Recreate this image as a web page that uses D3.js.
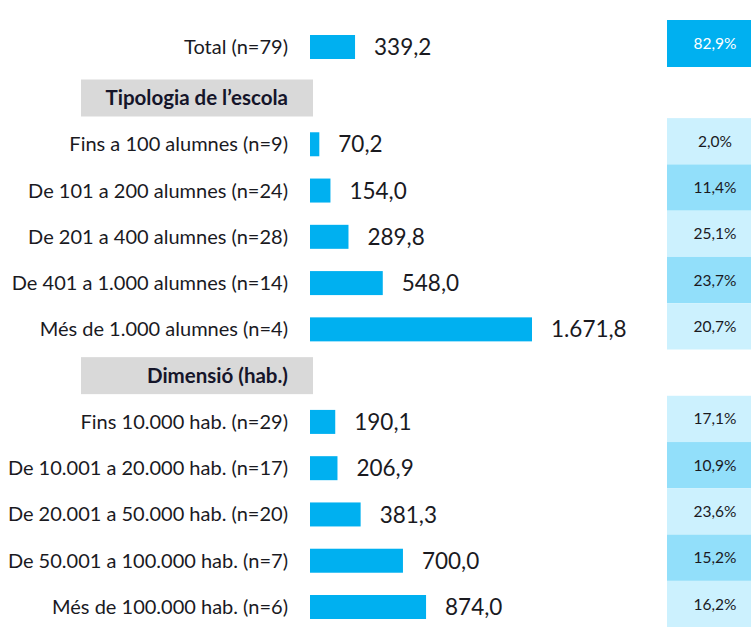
<!DOCTYPE html>
<html>
<head>
<meta charset="utf-8">
<script src="https://cdn.jsdelivr.net/npm/d3@7"></script>
<style>
  body { margin: 0; background: #fff; }
  svg { display: block; font-family: Lato, "Noto Sans", sans-serif; }
</style>
</head>
<body>
<div id="chart"></div>
<script>
// Data
const totalLabel = "Total (n=79)";
const totalValue = 339.2;
const totalShare = 82.9;

const groups = ["Tipologia de l’escola", "Dimensió (hab.)"];

const schoolLabels = [
    "Fins a 100 alumnes (n=9)",
    "De 101 a 200 alumnes (n=24)",
    "De 201 a 400 alumnes (n=28)",
    "De 401 a 1.000 alumnes (n=14)",
    "Més de 1.000 alumnes (n=4)"
];
const schoolValues = [70.2, 154.0, 289.8, 548.0, 1671.8];
const schoolShares = [2.0, 11.4, 25.1, 23.7, 20.7];

const sizeLabels = [
    "Fins 10.000 hab. (n=29)",
    "De 10.001 a 20.000 hab. (n=17)",
    "De 20.001 a 50.000 hab. (n=20)",
    "De 50.001 a 100.000 hab. (n=7)",
    "Més de 100.000 hab. (n=6)"
];
const sizeValues = [190.1, 206.9, 381.3, 700.0, 874.0];
const sizeShares = [17.1, 10.9, 23.6, 15.2, 16.2];

// number format with catalan separators
const fmt = d3.formatLocale({ decimal: ",", thousands: ".", grouping: [3], currency: ["", "€"] });
const fmtVal = fmt.format(",.1f");
const fmtPct = d => fmt.format(".1f")(d) + "%";

const width = 751, height = 627;
const barColor = "#00b0f0";
const textColor = "#1a1a1f";

// build the rows: header, 5 rows, header, 5 rows
const rows = [];
rows.push({ type: "header", label: groups[0] });
schoolLabels.forEach((l, i) => rows.push({ type: "row", label: l, value: schoolValues[i], share: schoolShares[i], k: i }));
rows.push({ type: "header", label: groups[1] });
sizeLabels.forEach((l, i) => rows.push({ type: "row", label: l, value: sizeValues[i], share: sizeShares[i], k: i }));
rows.forEach((d, i) => d.key = i);

const svg = d3.select("#chart").append("svg")
    .attr("width", width)
    .attr("height", height);

const x = d3.scaleLinear()
    .domain([0, 1671.8])
    .range([310, 532]);

const y = d3.scalePoint()
    .domain(rows.map(d => d.key))
    .range([98, 607]);

const step = y.step();
const barH = 24;
const labelX = 288;
const totalY = 47;

// ---- Total row
svg.append("text")
    .attr("x", labelX).attr("y", totalY).attr("dy", "0.35em")
    .attr("text-anchor", "end")
    .style("font-size", "20px").style("fill", textColor)
    .text(totalLabel);

svg.append("rect")
    .attr("x", x(0)).attr("y", totalY - barH / 2)
    .attr("width", x(totalValue) - x(0)).attr("height", barH)
    .style("fill", barColor);

svg.append("text")
    .attr("x", x(totalValue) + 19).attr("y", totalY).attr("dy", "0.36em")
    .style("font-size", "22.5px").style("fill", textColor)
    .text(fmtVal(totalValue));

svg.append("rect")
    .attr("x", 667).attr("y", 20)
    .attr("width", 100).attr("height", 47)
    .style("fill", barColor);

svg.append("text")
    .attr("x", 715).attr("y", 43.5).attr("dy", "0.36em")
    .attr("text-anchor", "middle")
    .style("font-size", "15.5px").style("fill", "#fff")
    .text(fmtPct(totalShare));

// ---- Group headers
const headers = svg.selectAll(".header")
    .data(rows.filter(d => d.type === "header"))
    .enter().append("g")
    .attr("class", "header");

headers.append("rect")
    .attr("x", 81).attr("y", d => y(d.key) - 18.5)
    .attr("width", 232).attr("height", 37)
    .style("fill", "#d9d9d9");

headers.append("text")
    .attr("x", labelX).attr("y", d => y(d.key)).attr("dy", "0.35em")
    .attr("text-anchor", "end")
    .style("font-size", "20.5px").style("font-weight", "bold").style("fill", "#15152a")
    .text(d => d.label);

// ---- Data rows
const data = rows.filter(d => d.type === "row");

// share cells, alternating light/medium
svg.selectAll(".cell")
    .data(data)
    .enter().append("rect")
    .attr("class", "cell")
    .attr("x", 667).attr("y", d => y(d.key) - step / 2 - 3)
    .attr("width", 100).attr("height", step)
    .style("fill", d => d.k % 2 === 0 ? "#ccf1fe" : "#92dffa");

svg.selectAll(".cell-text")
    .data(data)
    .enter().append("text")
    .attr("class", "cell-text")
    .attr("x", 715).attr("y", d => y(d.key) - 3).attr("dy", "0.36em")
    .attr("text-anchor", "middle")
    .style("font-size", "15.5px").style("fill", textColor)
    .text(d => fmtPct(d.share));

svg.selectAll(".label")
    .data(data)
    .enter().append("text")
    .attr("class", "label")
    .attr("x", labelX).attr("y", d => y(d.key)).attr("dy", "0.35em")
    .attr("text-anchor", "end")
    .style("font-size", "20px").style("fill", textColor)
    .text(d => d.label);

svg.selectAll(".bar")
    .data(data)
    .enter().append("rect")
    .attr("class", "bar")
    .attr("x", x(0)).attr("y", d => y(d.key) - barH / 2)
    .attr("width", d => x(d.value) - x(0)).attr("height", barH)
    .style("fill", barColor);

svg.selectAll(".value")
    .data(data)
    .enter().append("text")
    .attr("class", "value")
    .attr("x", d => x(d.value) + 19).attr("y", d => y(d.key)).attr("dy", "0.36em")
    .style("font-size", "22.5px").style("fill", textColor)
    .text(d => fmtVal(d.value));
</script>
</body>
</html>
